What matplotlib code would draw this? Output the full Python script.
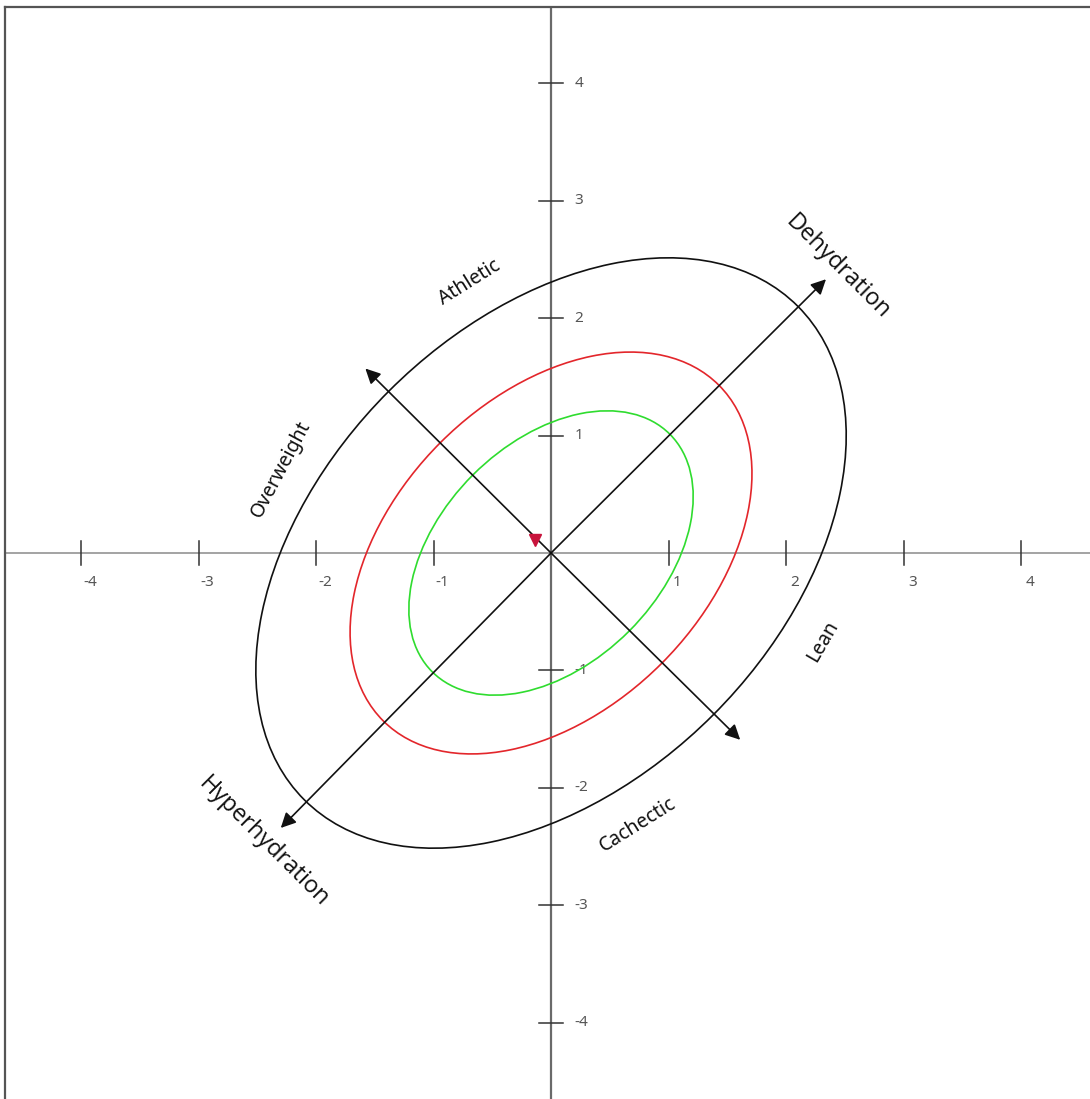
import numpy as np
import matplotlib.pyplot as plt
from matplotlib.patches import Ellipse

# tick values on both axes
tick_values = [-4, -3, -2, -1, 1, 2, 3, 4]

# tolerance ellipses (semi-axes along 45 deg / -45 deg)
ell_major = [2.97, 2.02, 1.43]
ell_minor = [1.95, 1.33, 0.94]
ell_colors = ["#111111", "#e3262b", "#2fdc2f"]

# arrow tips (arrows start at origin)
arrow_tips = [(2.34, 2.33), (-2.30, -2.34), (-1.58, 1.57), (1.61, -1.59)]

# label texts, positions, rotations
label_texts = ["Athletic", "Overweight", "Lean", "Cachectic", "Dehydration", "Hyperhydration"]
label_x = [-0.69, -2.30, 2.31, 0.74, 2.44, -2.45]
label_y = [2.30, 0.71, -0.75, -2.31, 2.43, -2.46]
label_rot = [32, 62, 60, 32, -45, -45]
label_size = [14, 14, 14, 14, 17, 17]

# point
point_x = [-0.14]
point_y = [0.11]

fig = plt.figure(figsize=(10.9, 10.99), dpi=100)
ax = fig.add_axes([5 / 1090, 0, 1085 / 1090, 1092 / 1099])
xmin, xmax = -4.647, 4.587
ymin, ymax = -4.647, 4.647
ax.set_xlim(xmin, xmax)
ax.set_ylim(ymin, ymax)
ax.set_xticks([])
ax.set_yticks([])
for s in ["right", "bottom"]:
    ax.spines[s].set_visible(False)
for s in ["left", "top"]:
    ax.spines[s].set_color("#555555")
    ax.spines[s].set_linewidth(1.6)

# main axes lines
ax.plot([xmin, xmax], [0, 0], color="#8a8a8a", lw=1.1, zorder=1)
ax.plot([0, 0], [ymin, ymax], color="#6a6a6a", lw=1.6, zorder=1)

# ticks
tl = 0.1
for v in tick_values:
    ax.plot([v, v], [-tl, tl], color="#333333", lw=1.1, zorder=2)
    ax.plot([-tl, tl], [v, v], color="#333333", lw=1.1, zorder=2)
    ax.text(v + 0.075, -0.25, str(v), ha="center", va="center",
            fontsize=11, color="#555555", family="Noto Sans")
    ax.text(0.2, v, str(v), ha="left", va="center",
            fontsize=11, color="#555555", family="Noto Sans")

# ellipses
for a, b, c in zip(ell_major, ell_minor, ell_colors):
    ax.add_patch(Ellipse((0, 0), 2 * a, 2 * b, angle=45, fill=False,
                         edgecolor=c, lw=1.2, zorder=3))

# arrows
for tx, ty in arrow_tips:
    ax.annotate("", xy=(tx, ty), xytext=(0, 0),
                arrowprops=dict(arrowstyle="-|>,head_length=0.9,head_width=0.45",
                                color="#111111", lw=1.2, shrinkA=0, shrinkB=0),
                zorder=4)

# point
ax.plot(point_x, point_y, marker="v", color="#c8143c", markersize=8,
        linestyle="none", zorder=5)

# labels
for t, x, y, r, fs in zip(label_texts, label_x, label_y, label_rot, label_size):
    big = t in ("Dehydration", "Hyperhydration")
    ax.text(x, y, t, rotation=r, ha="center", va="center",
            rotation_mode="anchor", fontsize=fs,
            family="Open Sans" if big else "Noto Sans",
            color="#111111")

fig.savefig("out.png", dpi=100)
